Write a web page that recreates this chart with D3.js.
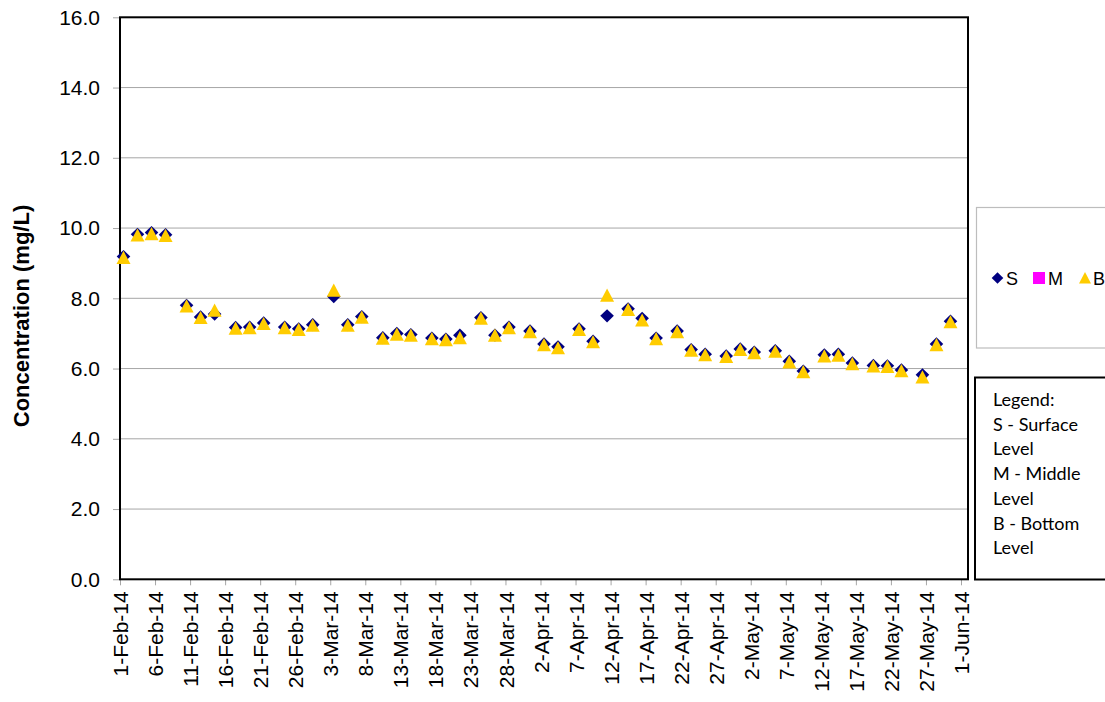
<!DOCTYPE html>
<html><head><meta charset="utf-8">
<script src="https://cdn.jsdelivr.net/npm/d3@7"></script>
<style>html,body{margin:0;padding:0;background:#fff;overflow:hidden}</style>
</head><body>
<svg id="chart" width="1105" height="702"></svg>
<script>
const sampleDates = ["2014-02-01","2014-02-03","2014-02-05","2014-02-07","2014-02-10","2014-02-12","2014-02-14","2014-02-17","2014-02-19","2014-02-21","2014-02-24","2014-02-26","2014-02-28",
"2014-03-03","2014-03-05","2014-03-07","2014-03-10","2014-03-12","2014-03-14","2014-03-17","2014-03-19","2014-03-21","2014-03-24","2014-03-26","2014-03-28","2014-03-31",
"2014-04-02","2014-04-04","2014-04-07","2014-04-09","2014-04-11","2014-04-14","2014-04-16","2014-04-18","2014-04-21","2014-04-23","2014-04-25","2014-04-28","2014-04-30",
"2014-05-02","2014-05-05","2014-05-07","2014-05-09","2014-05-12","2014-05-14","2014-05-16","2014-05-19","2014-05-21","2014-05-23","2014-05-26","2014-05-28","2014-05-30"];
const surface = [9.19,9.82,9.87,9.81,7.80,7.47,7.55,7.17,7.18,7.30,7.18,7.13,7.25,
8.05,7.25,7.48,6.88,7.00,6.97,6.87,6.84,6.95,7.45,6.95,7.18,7.07,
6.70,6.62,7.13,6.78,7.50,7.70,7.43,6.87,7.07,6.54,6.41,6.36,6.56,
6.47,6.51,6.21,5.93,6.39,6.41,6.16,6.09,6.08,5.96,5.82,6.70,7.35];
const middle = [];
const bottom = [9.16,9.80,9.84,9.79,7.78,7.45,7.66,7.15,7.16,7.28,7.16,7.11,7.23,
8.23,7.23,7.46,6.86,6.98,6.95,6.85,6.82,6.88,7.43,6.95,7.16,7.05,
6.68,6.59,7.11,6.76,8.09,7.68,7.38,6.85,7.05,6.52,6.39,6.34,6.54,
6.45,6.49,6.19,5.91,6.36,6.38,6.14,6.07,6.06,5.94,5.76,6.68,7.33];
const yTicks = [0,2,4,6,8,10,12,14,16];
const seriesNames = ["S","M","B"];
const notesLines = ["Legend:","S - Surface","Level","M - Middle","Level","B - Bottom","Level"];
const yTitle = "Concentration (mg/L)";

const svg = d3.select("#chart");
const L = 120, R = 968, T = 17.3, B = 579.3;
const parse = d3.utcParse("%Y-%m-%d");
const x = d3.scaleUtc().domain([parse("2014-02-01"), parse("2014-06-02")]).range([L, R]);
const y = d3.scaleLinear().domain([0,16]).range([B, T]);
const half = 12*3600*1000;
const px = d => x(new Date(parse(d).getTime() + half));

// gridlines
svg.append("g").selectAll("line").data(yTicks.filter(v => v>0 && v<16)).join("line")
  .attr("x1", L).attr("x2", R).attr("y1", d=>y(d)).attr("y2", d=>y(d))
  .attr("stroke", "#a6a6a6").attr("stroke-width", 1);

// y axis
const yAxis = svg.append("g").attr("transform", `translate(${L},0)`)
  .call(d3.axisLeft(y).tickValues(yTicks).tickFormat(d3.format(".1f")).tickSize(7).tickPadding(13));
yAxis.select(".domain").remove();
yAxis.selectAll("line").attr("stroke", "#a6a6a6");
yAxis.selectAll("text").attr("font-family", "Liberation Sans, Arial, sans-serif").attr("font-size", 21).attr("fill", "#000");

// x axis
const xTickVals = d3.utcDay.range(parse("2014-02-01"), parse("2014-06-02"), 1).filter((d,i)=> i%5===0);
const xAxis = svg.append("g").attr("transform", `translate(0,${B})`)
  .call(d3.axisBottom(x).tickValues(xTickVals).tickFormat(d3.utcFormat("%-d-%b-%y")).tickSize(6));
xAxis.select(".domain").remove();
xAxis.selectAll("line").attr("stroke", "#a6a6a6");
xAxis.selectAll("text")
  .attr("font-family", "Liberation Sans, Arial, sans-serif").attr("font-size", 21).attr("fill", "#000")
  .attr("text-anchor", "end").attr("transform", "rotate(-90)")
  .attr("x", -12).attr("y", 0).attr("dy", "0.36em");

// plot border
svg.append("rect").attr("x", L).attr("y", T).attr("width", R-L).attr("height", B-T)
  .attr("fill", "none").attr("stroke", "#000").attr("stroke-width", 2);

// y title
svg.append("text").attr("transform", `translate(29,${(202+430)/2}) rotate(-90)`)
  .attr("text-anchor", "middle").attr("font-family", "Liberation Sans, Arial, sans-serif")
  .attr("font-weight", "bold").attr("font-size", 22).text(yTitle);

const diamondPath = "M0,-6.6L6.8,0L0,6.6L-6.8,0Z";
const squarePath = "M-6,-6L6,-6L6,6L-6,6Z";
const trianglePath = "M0,-6.7L7,6.5L-7,6.5Z";

const gS = svg.append("g");
gS.selectAll("path").data(surface).join("path")
  .attr("d", diamondPath).attr("fill", "#000080")
  .attr("transform", (d,i)=>`translate(${px(sampleDates[i])},${y(d)})`);
const gM = svg.append("g");
gM.selectAll("path").data(middle).join("path")
  .attr("d", squarePath).attr("fill", "#ff00ff")
  .attr("transform", (d,i)=>`translate(${px(sampleDates[i])},${y(d)})`);
const gB = svg.append("g");
gB.selectAll("path").data(bottom).join("path")
  .attr("d", trianglePath).attr("fill", "#ffcc00")
  .attr("transform", (d,i)=>`translate(${px(sampleDates[i])},${y(d)})`);

// series legend
svg.append("rect").attr("x", 976.5).attr("y", 207.5).attr("width", 200).attr("height", 140.5)
  .attr("fill", "#fff").attr("stroke", "#bdbdbd").attr("stroke-width", 1.2);
const legItems = [
  {name: seriesNames[0], path: "M0,-5.8L5.8,0L0,5.8L-5.8,0Z", color: "#000080", mx: 997.5, tx: 1006},
  {name: seriesNames[1], path: "M-6,-6L6,-6L6,6L-6,6Z", color: "#ff00ff", mx: 1039, tx: 1048},
  {name: seriesNames[2], path: "M0,-6L6,5.5L-6,5.5Z", color: "#ffcc00", mx: 1085, tx: 1093}
];
const lg = svg.append("g").selectAll("g").data(legItems).join("g");
lg.append("path").attr("d", d=>d.path).attr("fill", d=>d.color)
  .attr("transform", d=>`translate(${d.mx},278)`);
lg.append("text").attr("x", d=>d.tx).attr("y", 284.5).attr("font-family", "Liberation Sans, Arial, sans-serif")
  .attr("font-size", 18).text(d=>d.name);

// notes box
svg.append("rect").attr("x", 975).attr("y", 377.5).attr("width", 200).attr("height", 202)
  .attr("fill", "#fff").attr("stroke", "#000").attr("stroke-width", 2);
svg.append("g").selectAll("text").data(notesLines).join("text")
  .attr("x", 993).attr("y", (d,i)=>406 + i*24.7)
  .attr("font-family", "Lato, Carlito, Calibri, sans-serif").attr("font-size", 18).text(d=>d);
</script>
</body></html>
